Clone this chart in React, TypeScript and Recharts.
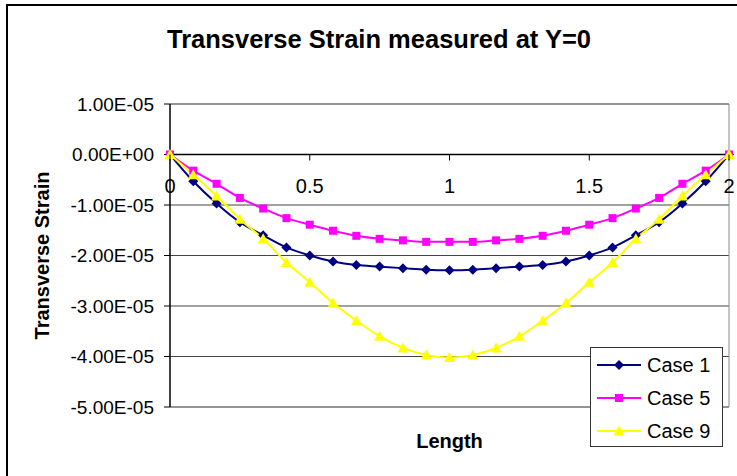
import React from 'react';
import { LineChart, Line, XAxis, YAxis, CartesianGrid, ReferenceLine } from 'recharts';

const lengths = [0, 0.0833, 0.1667, 0.25, 0.3333, 0.4167, 0.5, 0.5833, 0.6667, 0.75, 0.8333, 0.9167, 1, 1.0833, 1.1667, 1.25, 1.3333, 1.4167, 1.5, 1.5833, 1.6667, 1.75, 1.8333, 1.9167, 2];

const case1 = [0, -5.3e-6, -9.7e-6, -1.34e-5, -1.6e-5, -1.84e-5, -2.0e-5, -2.12e-5, -2.19e-5, -2.22e-5, -2.25e-5, -2.28e-5, -2.29e-5, -2.28e-5, -2.25e-5, -2.22e-5, -2.19e-5, -2.12e-5, -2.0e-5, -1.84e-5, -1.6e-5, -1.34e-5, -9.7e-6, -5.3e-6, 0];
const case5 = [0, -3.2e-6, -5.8e-6, -8.6e-6, -1.07e-5, -1.26e-5, -1.39e-5, -1.51e-5, -1.61e-5, -1.67e-5, -1.7e-5, -1.73e-5, -1.73e-5, -1.73e-5, -1.7e-5, -1.67e-5, -1.61e-5, -1.51e-5, -1.39e-5, -1.26e-5, -1.07e-5, -8.6e-6, -5.8e-6, -3.2e-6, 0];
const case9 = [0, -4.0e-6, -8.2e-6, -1.28e-5, -1.67e-5, -2.14e-5, -2.53e-5, -2.94e-5, -3.29e-5, -3.6e-5, -3.83e-5, -3.97e-5, -4.02e-5, -3.97e-5, -3.83e-5, -3.6e-5, -3.29e-5, -2.94e-5, -2.53e-5, -2.14e-5, -1.67e-5, -1.28e-5, -8.2e-6, -4.0e-6, 0];

const xTicks = [0, 0.5, 1, 1.5, 2];
const yTicks = [1e-5, 0, -1e-5, -2e-5, -3e-5, -4e-5, -5e-5];
const Y_MIN = -5e-5;
const Y_MAX = 1e-5;

const data = lengths.map((x, i) => ({ x, c1: case1[i], c5: case5[i], c9: case9[i] }));

const FONT = '"Liberation Sans", Arial, sans-serif';
const W = 737;
const H = 476;
const M = { top: 104, right: 8, left: 20, bottom: 24 };
const X_AXIS_H = 45;
const Y_AXIS_W = 150;
const PLOT_H = H - M.top - M.bottom - X_AXIS_H;
const ZERO_Y = M.top + (PLOT_H * Y_MAX) / (Y_MAX - Y_MIN);

const fmt = (v: number) => {
  const s = v.toExponential(2);
  const [mant, exp] = s.split('e');
  const sign = exp[0] === '-' ? '-' : '+';
  const digits = exp.replace(/[+-]/, '').padStart(2, '0');
  return `${mant}E${sign}${digits}`;
};

const Diamond = (p: any) => {
  const { cx, cy, fill } = p;
  if (cx == null || cy == null) return null;
  const r = 5;
  return <polygon points={`${cx},${cy - r} ${cx + r},${cy} ${cx},${cy + r} ${cx - r},${cy}`} fill={fill} stroke="none" />;
};
const Square = (p: any) => {
  const { cx, cy, fill } = p;
  if (cx == null || cy == null) return null;
  return <rect x={cx - 4} y={cy - 4} width={8} height={8} fill={fill} stroke="none" />;
};
const Triangle = (p: any) => {
  const { cx, cy, fill } = p;
  if (cx == null || cy == null) return null;
  return <polygon points={`${cx},${cy - 5.5} ${cx + 5.5},${cy + 4.5} ${cx - 5.5},${cy + 4.5}`} fill={fill} stroke="none" />;
};

const series = [
  { key: 'c1', name: 'Case 1', color: '#000080', Marker: Diamond },
  { key: 'c5', name: 'Case 5', color: '#FF00FF', Marker: Square },
  { key: 'c9', name: 'Case 9', color: '#FFFF00', Marker: Triangle },
];

const XTick = (props: any) => {
  const { x, payload } = props;
  return (
    <g>
      <line x1={x} y1={ZERO_Y} x2={x} y2={ZERO_Y + 6} stroke="#000" strokeWidth={1} />
      <text x={x} y={ZERO_Y + 38} textAnchor="middle" fontSize={20} fontFamily={FONT} fill="#000">
        {String(payload.value)}
      </text>
    </g>
  );
};

const LegendBox = () => (
  <div
    style={{
      position: 'absolute',
      left: 590,
      top: 347,
      width: 133,
      height: 100,
      boxSizing: 'border-box',
      border: '1px solid #333',
      background: '#fff',
      fontFamily: FONT,
      fontSize: 20,
      color: '#000',
    }}
  >
    {series.map((s) => (
      <div key={s.key} style={{ display: 'flex', alignItems: 'center', height: 33, paddingLeft: 6 }}>
        <svg width={45} height={20} style={{ display: 'block' }}>
          <line x1={0} y1={10} x2={44} y2={10} stroke={s.color} strokeWidth={2} />
          <s.Marker cx={22} cy={10} fill={s.color} />
        </svg>
        <span style={{ marginLeft: 5, lineHeight: '20px' }}>{s.name}</span>
      </div>
    ))}
  </div>
);

export default function App() {
  return (
    <div style={{ position: 'fixed', left: 0, top: 0, width: W, height: H, overflow: 'hidden', background: '#fff' }}>
      <div
        style={{
          position: 'absolute',
          left: 6,
          top: 4,
          width: 800,
          height: 600,
          border: '2px solid #000',
          boxSizing: 'border-box',
        }}
      />
      <div
        style={{
          position: 'absolute',
          left: 379,
          top: 24,
          transform: 'translateX(-50%)',
          whiteSpace: 'nowrap',
          fontFamily: FONT,
          fontWeight: 'bold',
          fontSize: 25.5,
          lineHeight: '30px',
          color: '#000',
        }}
      >
        Transverse Strain measured at Y=0
      </div>
      <div style={{ position: 'absolute', left: 0, top: 0 }}>
        <LineChart width={W} height={H} data={data} margin={M} style={{ fontFamily: FONT }}>
          <CartesianGrid horizontal vertical={false} stroke="#444" strokeWidth={1.2} />
          <XAxis
            dataKey="x"
            type="number"
            domain={[0, 2]}
            ticks={xTicks}
            height={X_AXIS_H}
            axisLine={false}
            tickLine={false}
            tick={<XTick />}
            interval={0}
            label={{ value: 'Length', position: 'insideBottom', offset: 4, style: { fontSize: 20, fontWeight: 'bold', fill: '#000', fontFamily: FONT } }}
          />
          <YAxis
            type="number"
            domain={[Y_MIN, Y_MAX]}
            ticks={yTicks}
            width={Y_AXIS_W}
            interval={0}
            tickFormatter={fmt}
            tickSize={6}
            tickMargin={10}
            axisLine={{ stroke: '#000', strokeWidth: 1.5 }}
            tickLine={{ stroke: '#000' }}
            tick={{ fontSize: 19, fill: '#000', fontFamily: FONT }}
            label={{ value: 'Transverse Strain', angle: -90, position: 'insideLeft', offset: 22, style: { textAnchor: 'middle', fontSize: 20, fontWeight: 'bold', fill: '#000', fontFamily: FONT } }}
          />
          <ReferenceLine y={Y_MAX} stroke="#888" strokeWidth={1} />
          <ReferenceLine y={Y_MIN} stroke="#888" strokeWidth={1} />
          <ReferenceLine x={2} stroke="#888" strokeWidth={1} />
          <ReferenceLine y={0} stroke="#000" strokeWidth={1.5} />
          {series.map((s) => (
            <Line
              key={s.key}
              dataKey={s.key}
              name={s.name}
              type="monotone"
              stroke={s.color}
              strokeWidth={2}
              isAnimationActive={false}
              dot={(p: any) => <s.Marker key={`${s.key}-${p.index}`} cx={p.cx} cy={p.cy} fill={s.color} />}
              activeDot={false}
            />
          ))}
        </LineChart>
      </div>
      <LegendBox />
    </div>
  );
}
